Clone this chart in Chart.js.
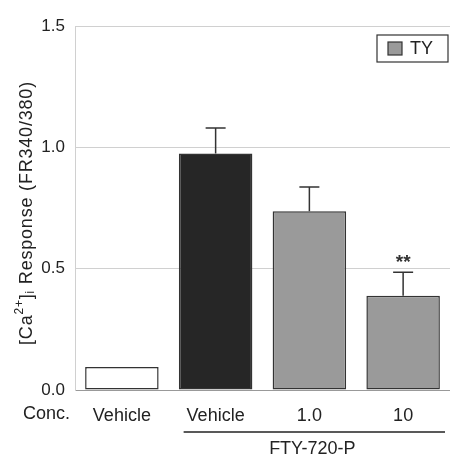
<!DOCTYPE html>
<html>
<head>
<meta charset="utf-8">
<script src="https://cdn.jsdelivr.net/npm/chart.js@4"></script>
<style>
  body { margin: 0; background: #fff; }
  #wrap { width: 450px; height: 456px; }
</style>
</head>
<body>
<div id="wrap"><canvas id="grafico" width="450" height="456"></canvas></div>
<script>
const categorias = ["Vehicle", "Vehicle", "1.0", "10"];
const respostas = [0.095, 0.975, 0.737, 0.388];
const erros = [0, 0.105, 0.100, 0.097];
const marcas = ["", "", "", "**"];
const yTicks = [0, 0.5, 1.0, 1.5];
const legenda = "TY";
const grupo = "FTY-720-P";
const rotuloConc = "Conc.";

const FONTE = "Liberation Sans, Arial, sans-serif";
const corBarras = ["#ffffff", "#262626", "#9a9a9a", "#9a9a9a"];

// barras de erro, asteriscos e legenda
const extras = {
  id: "extras",
  afterDatasetsDraw(chart) {
    const ctx = chart.ctx;
    const meta = chart.getDatasetMeta(0);
    const y = chart.scales.y;
    ctx.save();
    ctx.strokeStyle = "#333";
    ctx.lineWidth = 1.5;
    meta.data.forEach((bar, i) => {
      if (!erros[i]) return;
      const topo = y.getPixelForValue(respostas[i] + erros[i]);
      ctx.beginPath();
      ctx.moveTo(bar.x, bar.y);
      ctx.lineTo(bar.x, topo);
      ctx.moveTo(bar.x - 10, topo);
      ctx.lineTo(bar.x + 10, topo);
      ctx.stroke();
      if (marcas[i]) {
        ctx.fillStyle = "#333";
        ctx.font = "bold 19px " + FONTE;
        ctx.textAlign = "center";
        ctx.textBaseline = "alphabetic";
        ctx.fillText(marcas[i], bar.x, topo - 4);
      }
    });

    // legenda
    ctx.lineWidth = 1.2;
    ctx.strokeStyle = "#333";
    ctx.fillStyle = "#fff";
    ctx.fillRect(377, 35, 71, 27);
    ctx.strokeRect(377, 35, 71, 27);
    ctx.fillStyle = corBarras[2];
    ctx.fillRect(388, 42, 14, 13);
    ctx.strokeRect(388, 42, 14, 13);
    ctx.fillStyle = "#222";
    ctx.font = "18px " + FONTE;
    ctx.textAlign = "left";
    ctx.textBaseline = "middle";
    ctx.fillText(legenda, 410, 49);
    ctx.restore();
  },
  afterDraw(chart) {
    const ctx = chart.ctx;
    const x = chart.scales.x;
    ctx.save();
    ctx.fillStyle = "#222";
    ctx.font = "18px " + FONTE;
    ctx.textBaseline = "middle";
    ctx.textAlign = "right";
    ctx.fillText(rotuloConc, 70, 414);

    // linha do grupo FTY-720-P
    const x1 = x.getPixelForValue(1) - 32;
    const x2 = chart.chartArea.right - 5;
    ctx.strokeStyle = "#222";
    ctx.lineWidth = 1.5;
    ctx.beginPath();
    ctx.moveTo(x1, 432);
    ctx.lineTo(x2, 432);
    ctx.stroke();
    ctx.textAlign = "center";
    ctx.font = "18px " + FONTE;
    ctx.fillText(grupo, (x1 + x2) / 2 - 2, 449);

    // titulo do eixo y com sobrescrito e subscrito
    const partes = [
      { t: "[Ca", s: 18, dy: 0 },
      { t: "2+", s: 12, dy: -7 },
      { t: "]", s: 18, dy: 0 },
      { t: "i", s: 12, dy: 4 },
      { t: " Response (FR340/380)", s: 18, dy: 0 }
    ];
    ctx.letterSpacing = "0.8px";
    let total = 0;
    partes.forEach(p => {
      ctx.font = p.s + "px " + FONTE;
      p.w = ctx.measureText(p.t).width;
      total += p.w;
    });
    ctx.translate(27, 213);
    ctx.rotate(-Math.PI / 2);
    ctx.textAlign = "left";
    let px = -total / 2;
    partes.forEach(p => {
      ctx.font = p.s + "px " + FONTE;
      ctx.fillText(p.t, px, p.dy);
      px += p.w;
    });
    ctx.restore();
  }
};

new Chart(document.getElementById("grafico"), {
  type: "bar",
  data: {
    labels: categorias,
    datasets: [{
      label: legenda,
      data: respostas,
      backgroundColor: corBarras,
      borderColor: "#333",
      borderWidth: 1.5,
      borderSkipped: false,
      barPercentage: 0.8,
      categoryPercentage: 0.98
    }]
  },
  options: {
    responsive: false,
    animation: false,
    layout: { padding: { top: 26, right: 0, left: 0, bottom: 0 } },
    plugins: { legend: { display: false }, tooltip: { enabled: false } },
    scales: {
      x: {
        afterFit(s) { s.height = 66; },
        grid: { display: true, drawOnChartArea: false, drawTicks: false, offset: true },
        border: { color: "#999", width: 1 },
        ticks: { color: "#222", font: { family: FONTE, size: 18 }, padding: 15 }
      },
      y: {
        min: 0,
        max: 1.5,
        afterFit(s) { s.width = 75; },
        afterBuildTicks(s) { s.ticks = yTicks.map(v => ({ value: v })); },
        grid: { color: "#d0d0d0", lineWidth: 1, drawTicks: false },
        border: { color: "#d0d0d0", width: 1 },
        ticks: {
          color: "#222",
          font: { family: FONTE, size: 17 },
          padding: 10,
          callback: v => v.toFixed(1)
        }
      }
    }
  },
  plugins: [extras]
});
</script>
</body>
</html>
